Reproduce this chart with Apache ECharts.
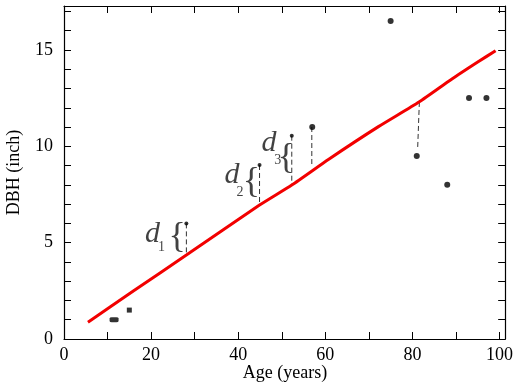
<!DOCTYPE html>
<html><head><meta charset="utf-8">
<script src="https://cdn.jsdelivr.net/npm/echarts@6/dist/echarts.min.js"></script>
<style>html,body{margin:0;padding:0;background:#fff}#c{width:516px;height:383px}</style>
</head><body><div id="c"></div>
<script>
// --- data ---
var xTickLabels = [0, 20, 40, 60, 80, 100];
var yTickLabels = [0, 5, 10, 15];
var treeAge = [57, 75, 81, 88, 93, 97];
var treeDBH = [11, 16.5, 9.5, 8, 12.5, 12.5];
var markedAge = [28.1, 44.9, 52.3];
var markedDBH = [6.0, 9.03, 10.55];
var youngAge = [11.5];
var youngDBH = [1.0];
var squareAge = [15];
var squareDBH = [1.5];
var fitAge = [5.5, 16, 28.1, 44.9, 52.3, 60.8, 72.2, 81.6, 89, 95, 99.1];
var fitDBH = [0.87, 2.5, 4.36, 6.95, 7.99, 9.33, 11.02, 12.31, 13.48, 14.37, 14.96];
// residual segments
var residX1 = [28.1, 44.9, 52.3, 56.9, 81.6];
var residY1 = [6.0, 9.03, 10.55, 11.0, 12.3];
var residX2 = [28.1, 44.9, 52.3, 56.9, 81.2];
var residY2 = [4.36, 6.95, 7.99, 8.95, 9.85];
var annoNames = ['d', 'd', 'd'];
var annoSubs = ['1', '2', '3'];
var annoDX = [20.3, 38.6, 47.1];
var annoDY = [5.45, 8.51, 10.17];
var annoSX = [22.4, 40.4, 49.1];
var annoSY = [4.78, 7.63, 9.29];
var annoBX = [26.0, 43.0, 51.0];
var annoBY = [5.29, 8.1, 9.34];

var FONT = 'Liberation Serif';
var chart = echarts.init(document.getElementById('c'));
function pairs(a, b) { return a.map(function (v, i) { return [v, b[i]]; }); }
function textSeries(xs, ys, texts, style) {
  return {
    type: 'scatter', silent: true, symbol: 'circle', symbolSize: 1,
    itemStyle: { color: 'rgba(0,0,0,0)' },
    data: xs.map(function (x, i) { return { value: [x, ys[i]], name: texts[i] }; }),
    label: Object.assign({ show: true, position: 'inside', formatter: '{b}', color: '#111' }, style),
    z: 5
  };
}

var series = [];
series.push({
  type: 'line', data: pairs(fitAge, fitDBH), smooth: 0.2, symbol: 'none',
  lineStyle: { color: '#f20000', width: 3 }, z: 3
});
for (var i = 0; i < residX1.length; i++) {
  series.push({
    type: 'line', data: [[residX1[i], residY1[i]], [residX2[i], residY2[i]]], symbol: 'none',
    lineStyle: { color: '#333', width: 1, type: [5, 3] }, z: 2
  });
}
series.push({ type: 'scatter', data: pairs(treeAge, treeDBH), symbol: 'circle', symbolSize: 6, itemStyle: { color: '#000' }, z: 4 });
series.push({ type: 'scatter', data: pairs(markedAge, markedDBH), symbol: 'circle', symbolSize: 4, itemStyle: { color: '#000' }, z: 4 });
series.push({ type: 'scatter', data: pairs(youngAge, youngDBH), symbol: 'roundRect', symbolSize: [9, 5], itemStyle: { color: '#000' }, z: 4 });
series.push({ type: 'scatter', data: pairs(squareAge, squareDBH), symbol: 'rect', symbolSize: 5, itemStyle: { color: '#000' }, z: 4 });
series.push(textSeries(annoDX, annoDY, annoNames, { fontFamily: FONT, fontStyle: 'italic', fontSize: 30 }));
series.push(textSeries(annoSX, annoSY, annoSubs, { fontFamily: FONT, fontSize: 14 }));
series.push(textSeries(annoBX, annoBY, ['{', '{', '{'], { fontFamily: FONT, fontSize: 36, formatter: function () { return '{'; } }));

var axisLineStyle = { show: true, onZero: false, lineStyle: { color: '#000', width: 1.2 } };
var tickStyle = { show: true, inside: true, length: 7, lineStyle: { color: '#000' } };

chart.setOption({
  animation: false,
  grid: { left: 64, right: 9, top: 6, bottom: 44 },
  xAxis: [{
    type: 'value', position: 'bottom', min: 0, max: 101.3, interval: 10,
    axisLine: axisLineStyle, axisTick: tickStyle, splitLine: { show: false },
    axisLabel: {
      showMaxLabel: false, margin: 7, fontFamily: FONT, fontSize: 18, color: '#000',
      formatter: function (v) { return xTickLabels.indexOf(v) >= 0 ? String(v) : ''; }
    }
  }, {
    type: 'value', position: 'top', min: 0, max: 101.3, interval: 10,
    axisLine: axisLineStyle, axisTick: tickStyle,
    axisLabel: { show: false }, splitLine: { show: false }
  }],
  yAxis: [{
    type: 'value', position: 'left', min: 0, max: 17.28, interval: 1,
    axisLine: axisLineStyle, axisTick: tickStyle, splitLine: { show: false },
    axisLabel: {
      showMaxLabel: false, margin: 11, fontFamily: FONT, fontSize: 18, color: '#000',
      formatter: function (v) { return yTickLabels.indexOf(v) >= 0 ? String(v) : ''; }
    }
  }, {
    type: 'value', position: 'right', min: 0, max: 17.28, interval: 1,
    axisLine: axisLineStyle, axisTick: tickStyle,
    axisLabel: { show: false }, splitLine: { show: false }
  }],
  graphic: [
    { type: 'text', x: 285, y: 373, style: { text: 'Age (years)', font: '18px "Liberation Serif"', fill: '#000', textAlign: 'center', textVerticalAlign: 'middle' } },
    { type: 'text', x: 14, y: 172.5, rotation: Math.PI / 2, style: { text: 'DBH (inch)', font: '18px "Liberation Serif"', fill: '#000', textAlign: 'center', textVerticalAlign: 'middle' } }
  ],
  series: series
});
</script>
</body></html>
